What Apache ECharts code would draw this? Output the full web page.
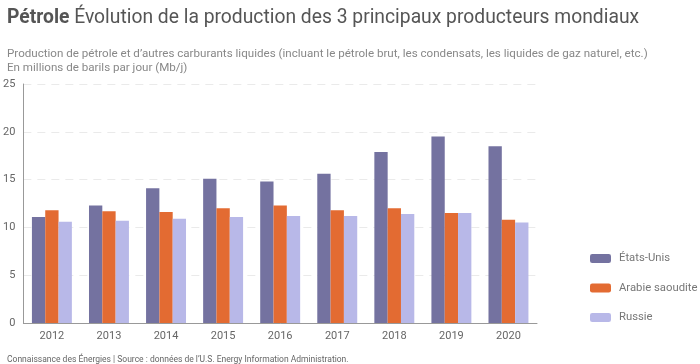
<!DOCTYPE html>
<html><head><meta charset="utf-8">
<script src="https://cdn.jsdelivr.net/npm/echarts@6/dist/echarts.min.js"></script>
<style>html,body{margin:0;padding:0;background:#fff}#c{width:700px;height:364px}</style>
</head><body><div id="c"></div>
<script>
const categories = ['2012','2013','2014','2015','2016','2017','2018','2019','2020'];
const etatsUnis = [11.1, 12.3, 14.1, 15.1, 14.8, 15.6, 17.9, 19.5, 18.5];
const arabieSaoudite = [11.8, 11.7, 11.6, 12.0, 12.3, 11.8, 12.0, 11.5, 10.8];
const russie = [10.6, 10.7, 10.9, 11.1, 11.2, 11.2, 11.4, 11.5, 10.5];
const yTicks = [0, 5, 10, 15, 20, 25];
const seriesNames = ['États-Unis', 'Arabie saoudite', 'Russie'];
const colors = ['#7472a0', '#e36b32', '#b8b8e8'];

const chart = echarts.init(document.getElementById('c'), null, {renderer: 'canvas'});
const font = 'Roboto';
chart.setOption({
  animation: false,
  textStyle: {fontFamily: font},
  title: [
    {left: 2, top: 4, text: '{b|Pétrole} Évolution de la production des 3 principaux producteurs mondiaux',
     textStyle: {fontFamily: font, fontSize: 19.3, fontWeight: 'normal', color: '#555',
       rich: {b: {fontFamily: font, fontSize: 19.3, fontWeight: 'bold', color: '#555'}}}},
    {left: 2, top: 42, text: 'Production de pétrole et d\u2019autres carburants liquides (incluant le pétrole brut, les condensats, les liquides de gaz naturel, etc.)\nEn millions de barils par jour (Mb/j)',
     textStyle: {fontFamily: font, fontSize: 11.6, fontWeight: 'normal', color: '#888', lineHeight: 14}},
    {left: 2, top: 350, text: 'Connaissance des Énergies | Source : données de l\u2019U.S. Energy Information Administration.',
     textStyle: {fontFamily: font, fontSize: 8.5, fontWeight: 'normal', color: '#666'}}
  ],
  legend: {
    orient: 'vertical', left: 585, top: 248, itemWidth: 21, itemHeight: 9, itemGap: 18.5,
    textStyle: {fontFamily: font, fontSize: 11.3, color: '#777', padding: [0, 0, 0, 3]},
    data: seriesNames
  },
  grid: {left: 23, right: 163, top: 84, bottom: 41},
  xAxis: {
    type: 'category', data: categories,
    axisLine: {lineStyle: {color: '#999', width: 1}},
    axisTick: {show: false},
    axisLabel: {color: '#666', fontSize: 11, margin: 8}
  },
  yAxis: {
    type: 'value', min: 0, max: 25, interval: 5,
    axisLine: {show: true, lineStyle: {color: '#999'}},
    axisTick: {show: false},
    axisLabel: {color: '#666', fontSize: 11, margin: 8, formatter: v => yTicks.includes(v) ? String(v) : ''},
    splitLine: {lineStyle: {color: '#eaeaea', type: [8, 6]}}
  },
  series: [
    {name: seriesNames[0], type: 'bar', data: etatsUnis, itemStyle: {color: colors[0]}, barGap: '0%', barCategoryGap: '30%'},
    {name: seriesNames[1], type: 'bar', data: arabieSaoudite, itemStyle: {color: colors[1]}, barGap: '0%', barCategoryGap: '30%'},
    {name: seriesNames[2], type: 'bar', data: russie, itemStyle: {color: colors[2]}, barGap: '0%', barCategoryGap: '30%'}
  ]
});
</script></body></html>
